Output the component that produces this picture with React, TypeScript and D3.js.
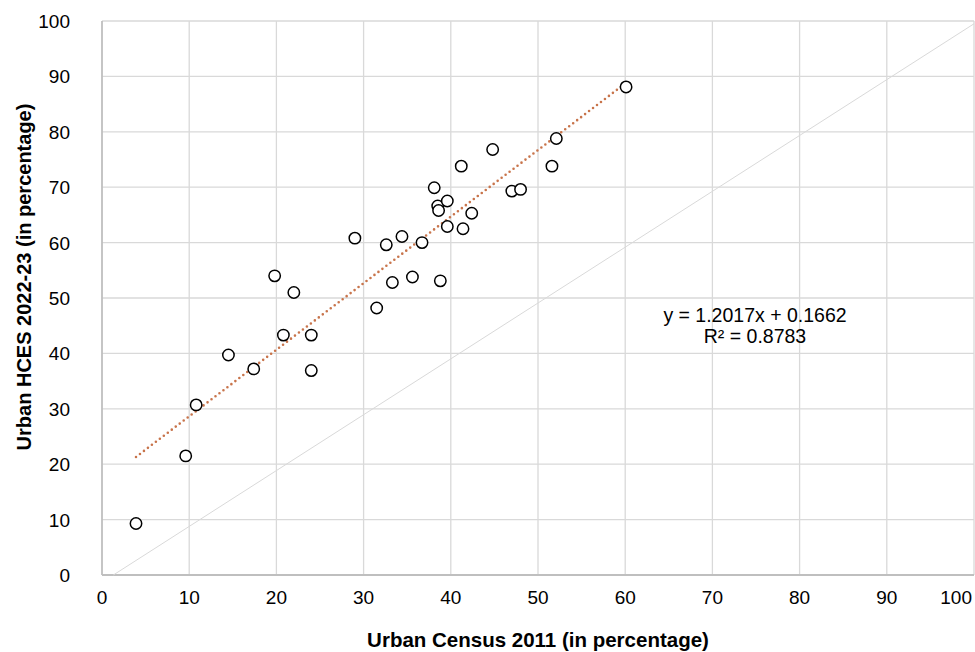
import * as d3 from 'd3'

// Urban share by state: Census 2011 (x) vs HCES 2022-23 (y)
const census2011 = [
  3.9, 9.6, 10.8, 14.5, 17.4, 20.8, 24.0, 24.0, 22.0, 19.8, 29.0, 31.5, 32.6, 34.4, 33.3, 35.6,
  36.7, 38.1, 38.5, 38.6, 39.6, 39.6, 38.8, 60.1, 52.1, 51.6, 44.8, 41.2, 47.0, 48.0, 42.4, 41.4,
]
const hces2023 = [
  9.3, 21.5, 30.7, 39.7, 37.2, 43.3, 43.3, 36.9, 51.0, 54.0, 60.8, 48.2, 59.6, 61.1, 52.8, 53.8,
  60.0, 69.9, 66.6, 65.8, 67.5, 62.9, 53.1, 88.1, 78.8, 73.8, 76.8, 73.8, 69.3, 69.6, 65.3, 62.5,
]
const xTicks = [0, 10, 20, 30, 40, 50, 60, 70, 80, 90, 100]
const yTicks = [0, 10, 20, 30, 40, 50, 60, 70, 80, 90, 100]

const trendSlope = 1.2017
const trendIntercept = 16.62
const equationLines = ['y = 1.2017x + 0.1662', 'R² = 0.8783']

// reference (near 45°) line as drawn
const diagX = [1.3, 100]
const diagY = [0, 99.5]

const W = 975
const H = 652
const margin = { top: 21, right: 1, bottom: 77, left: 102 }
const FONT = 'Liberation Sans, Arial, sans-serif'

export default function App() {
  const x = d3.scaleLinear().domain([0, 100]).range([margin.left, W - margin.right])
  const y = d3.scaleLinear().domain([0, 100]).range([H - margin.bottom, margin.top])

  const points = census2011.map((cx, i) => ({ cx, cy: hces2023[i] }))
  const [xmin, xmax] = d3.extent(census2011) as [number, number]

  const line = d3
    .line<[number, number]>()
    .x((d) => x(d[0]))
    .y((d) => y(d[1]))

  const trend: [number, number][] = [
    [xmin, trendSlope * xmin + trendIntercept],
    [xmax, trendSlope * xmax + trendIntercept],
  ]
  const diag: [number, number][] = diagX.map((v, i) => [v, diagY[i]])

  const x0 = x(0)
  const x1 = x(100)
  const y0 = y(0)
  const y1 = y(100)

  return (
    <svg
      width={W}
      height={H}
      style={{ position: 'absolute', left: 0, top: 0, background: '#fff' }}
      fontFamily={FONT}
    >
      {/* gridlines */}
      {xTicks.slice(1).map((t) => (
        <line key={'gx' + t} x1={x(t)} x2={x(t)} y1={y1} y2={y0} stroke="#d9d9d9" strokeWidth={1.3} />
      ))}
      {yTicks.slice(1).map((t) => (
        <line key={'gy' + t} x1={x0} x2={x1} y1={y(t)} y2={y(t)} stroke="#d9d9d9" strokeWidth={1.3} />
      ))}

      {/* axes */}
      <line x1={x0} x2={x0} y1={y1} y2={y0} stroke="#bfbfbf" strokeWidth={1.8} />
      <line x1={x0} x2={x1} y1={y0} y2={y0} stroke="#bfbfbf" strokeWidth={1.8} />

      {/* diagonal */}
      <path d={line(diag) || ''} fill="none" stroke="#d9d9d9" strokeWidth={1} />

      {/* trend line */}
      <path
        d={line(trend) || ''}
        fill="none"
        stroke="#c8744b"
        strokeWidth={2.6}
        strokeLinecap="round"
        strokeDasharray="0 5"
      />

      {/* points */}
      {points.map((p, i) => (
        <circle key={i} cx={x(p.cx)} cy={y(p.cy)} r={5.7} fill="#fff" stroke="#000" strokeWidth={1.5} />
      ))}

      {/* tick labels (last one pulled inside the frame, as in the original) */}
      {xTicks.map((t, i) => {
        const last = i === xTicks.length - 1
        return (
          <text
            key={'tx' + t}
            x={last ? W - 3 : x(t)}
            y={y0 + 29}
            textAnchor={last ? 'end' : 'middle'}
            fontSize={19}
            fill="#000"
          >
            {t}
          </text>
        )
      })}
      {yTicks.map((t) => (
        <text key={'ty' + t} x={x0 - 32} y={y(t) + 7} textAnchor="end" fontSize={19} fill="#000">
          {t}
        </text>
      ))}

      {/* equation */}
      {equationLines.map((s, i) => (
        <text key={s} x={755} y={322 + i * 21} textAnchor="middle" fontSize={19.5} fill="#000">
          {s}
        </text>
      ))}

      {/* axis titles */}
      <text x={(x0 + x1) / 2} y={647} textAnchor="middle" fontSize={20.5} fontWeight="bold" fill="#000">
        Urban Census 2011 (in percentage)
      </text>
      <text
        transform={`translate(31,277) rotate(-90)`}
        textAnchor="middle"
        fontSize={20}
        fontWeight="bold"
        fill="#000"
      >
        Urban HCES 2022-23 (in percentage)
      </text>
    </svg>
  )
}
